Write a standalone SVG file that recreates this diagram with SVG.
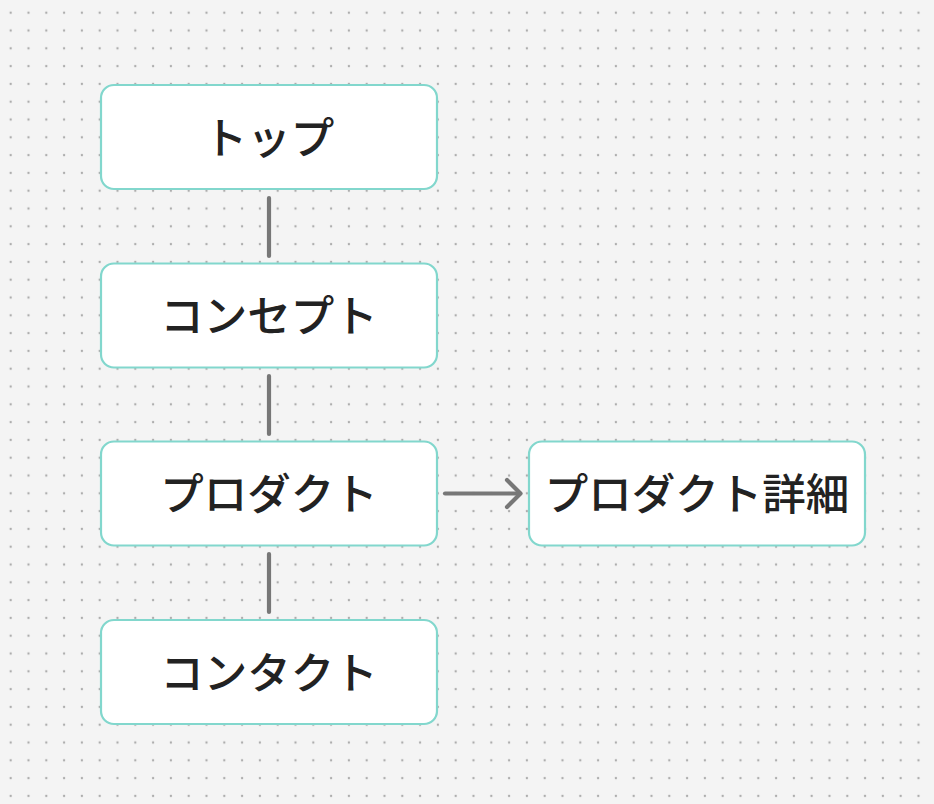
<svg xmlns="http://www.w3.org/2000/svg" width="934" height="804" viewBox="0 0 934 804">
<defs>
<pattern id="dots" x="1.8" y="3.8" width="17.8" height="17.8" patternUnits="userSpaceOnUse">
<circle cx="8.9" cy="8.9" r="1.2" fill="#adadad"/>
</pattern>
<style>
.node rect{fill:#ffffff;stroke:#82d7cd;stroke-width:2.2}
.node text{font-family:"Noto Sans CJK JP","Noto Sans",sans-serif;font-size:43.5px;font-weight:500;fill:#222222;text-anchor:middle;dominant-baseline:central}
.conn line,.conn path{stroke:#777777;stroke-width:4.2;stroke-linecap:round;stroke-linejoin:round;fill:none}
</style>
</defs>
<rect width="934" height="804" fill="#f4f4f4"/>
<rect width="934" height="804" fill="url(#dots)"/>
<g id="connectors" class="conn">
<line x1="269" y1="198" x2="269" y2="256"/>
<line x1="269" y1="376" x2="269" y2="434"/>
<line x1="269" y1="554" x2="269" y2="612"/>
<line x1="445" y1="493.5" x2="520" y2="493.5"/>
<path d="M 507 480 L 520.5 493.5 L 507 507"/>
</g>
<g id="node-top" class="node">
<rect x="101" y="85" width="336" height="104" rx="13"/>
<text x="269" y="135">トップ</text>
</g>
<g id="node-concept" class="node">
<rect x="101" y="263.5" width="336" height="104" rx="13"/>
<text x="269" y="313.5">コンセプト</text>
</g>
<g id="node-product" class="node">
<rect x="101" y="441.5" width="336" height="104" rx="13"/>
<text x="269" y="491.5">プロダクト</text>
</g>
<g id="node-contact" class="node">
<rect x="101" y="620" width="336" height="104" rx="13"/>
<text x="269" y="670">コンタクト</text>
</g>
<g id="node-product-detail" class="node">
<rect x="529" y="441.5" width="336" height="104" rx="13"/>
<text x="697" y="491.5">プロダクト詳細</text>
</g>
</svg>
